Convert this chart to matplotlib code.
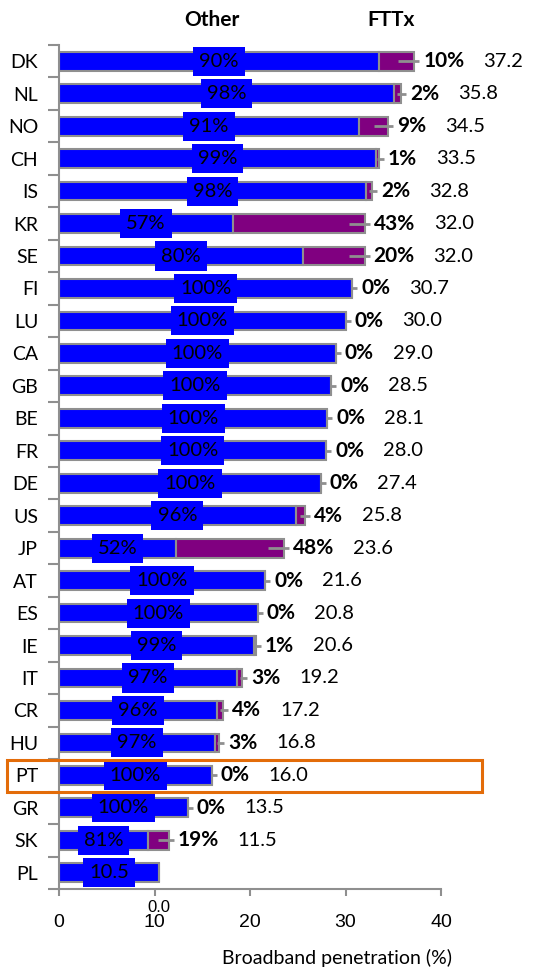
import numpy as np
import matplotlib
matplotlib.use("Agg")
import matplotlib.pyplot as plt
import matplotlib.transforms as mtransforms
from matplotlib.patches import Rectangle

# broadband penetration by country, split into FTTx and other technologies
countries = ["DK", "NL", "NO", "CH", "IS", "KR", "SE", "FI", "LU", "CA", "GB", "BE", "FR",
             "DE", "US", "JP", "AT", "ES", "IE", "IT", "CR", "HU", "PT", "GR", "SK", "PL"]
totals = [37.2, 35.8, 34.5, 33.5, 32.8, 32.0, 32.0, 30.7, 30.0, 29.0, 28.5, 28.1, 28.0,
          27.4, 25.8, 23.6, 21.6, 20.8, 20.6, 19.2, 17.2, 16.8, 16.0, 13.5, 11.5, 10.5]
other_pct = [90, 98, 91, 99, 98, 57, 80, 100, 100, 100, 100, 100, 100,
             100, 96, 52, 100, 100, 99, 97, 96, 97, 100, 100, 81, 100]
fttx_pct = [10, 2, 9, 1, 2, 43, 20, 0, 0, 0, 0, 0, 0,
            0, 4, 48, 0, 0, 1, 3, 4, 3, 0, 0, 19, 0]
highlight = "PT"

BLUE = "#0000FF"
PURPLE = "#800080"
GRAY = "#8F8F8F"

plt.rcParams["font.family"] = ["Lato", "DejaVu Sans"]

tot = np.array(totals)
other = tot * np.array(other_pct) / 100.0
fttx = tot - other
y = np.arange(len(countries))

fig = plt.figure(figsize=(5.4, 9.68), dpi=100)
ax = fig.add_axes([59 / 540, 1 - 889 / 968, 382 / 540, 844 / 968])

ax.barh(y, other, height=0.58, color=BLUE, edgecolor=GRAY, linewidth=1.5, zorder=2)
ax.barh(y, fttx, left=other, height=0.58, color=PURPLE, edgecolor=GRAY, linewidth=1.5, zorder=2)

ax.set_xlim(0, 40)
ax.set_ylim(len(countries) - 0.5, -0.5)

px = 40 / 382.0  # data units per pixel along x

for i, c in enumerate(countries):
    # label of the "other" segment
    lab = "%d%%" % other_pct[i] if c != "PL" else "%.1f" % totals[i]
    ax.text(other[i] / 2, i, lab, ha="center", va="center", fontsize=14.5, color="black",
            zorder=4, bbox=dict(boxstyle="square,pad=0.3", fc=BLUE, ec="none"))
    if c == "PL":
        continue
    # leader line
    x0 = tot[i] - min(fttx[i] / 2, 16 * px)
    ax.plot([x0, tot[i] + 5 * px], [i, i], color=GRAY, lw=2, zorder=3, solid_capstyle="butt")
    t = ax.annotate("%d%%" % fttx_pct[i], xy=(tot[i], i), xytext=(6.5, 0),
                    textcoords="offset points", ha="left", va="center",
                    fontsize=15, fontweight="bold")
    ax.annotate("%.1f" % totals[i], xy=(1, 0.5), xycoords=t, xytext=(13.5, 0),
                textcoords="offset points", ha="left", va="center", fontsize=14.5)

# PL fttx label ends up under the axis
ax.annotate("0.0", xy=(tot[-1], len(countries) - 0.5), xytext=(0, -8),
            textcoords="offset points", ha="center", va="top", fontsize=12,
            family="Liberation Sans", annotation_clip=False)

# axes styling
for s in ["top", "right"]:
    ax.spines[s].set_visible(False)
for s in ["left", "bottom"]:
    ax.spines[s].set_color(GRAY)
    ax.spines[s].set_linewidth(1.5)

ax.set_yticks(y)
ax.set_yticklabels(countries, fontsize=14)
ax.set_yticks(np.arange(len(countries) + 1) - 0.5, minor=True)
ax.tick_params(axis="y", which="major", length=0, pad=15)
ax.tick_params(axis="y", which="minor", length=8, width=1.5, color=GRAY)

ax.set_xticks([0, 10, 20, 30, 40])
ax.tick_params(axis="x", length=5, width=1.5, color=GRAY, pad=13, labelsize=14)
for lbl in ax.get_xticklabels():
    lbl.set_family("Liberation Sans")

fig.text(337 / 540, 1 - 958 / 968, "Broadband penetration (%)", ha="center", va="center",
         fontsize=14)
fig.text(212 / 540, 1 - 20 / 968, "Other", ha="center", va="center", fontsize=15,
         fontweight="bold")
fig.text(391 / 540, 1 - 20 / 968, "FTTx", ha="center", va="center", fontsize=15,
         fontweight="bold")

# highlight box around PT
k = countries.index(highlight)
trans = mtransforms.blended_transform_factory(fig.transFigure, ax.transData)
ax.add_patch(Rectangle((7 / 540, k - 0.47), 475 / 540, 0.98, transform=trans, fill=False,
                       ec="#E36C09", lw=2.2, clip_on=False, zorder=5))

fig.savefig("out.png", dpi=100)
